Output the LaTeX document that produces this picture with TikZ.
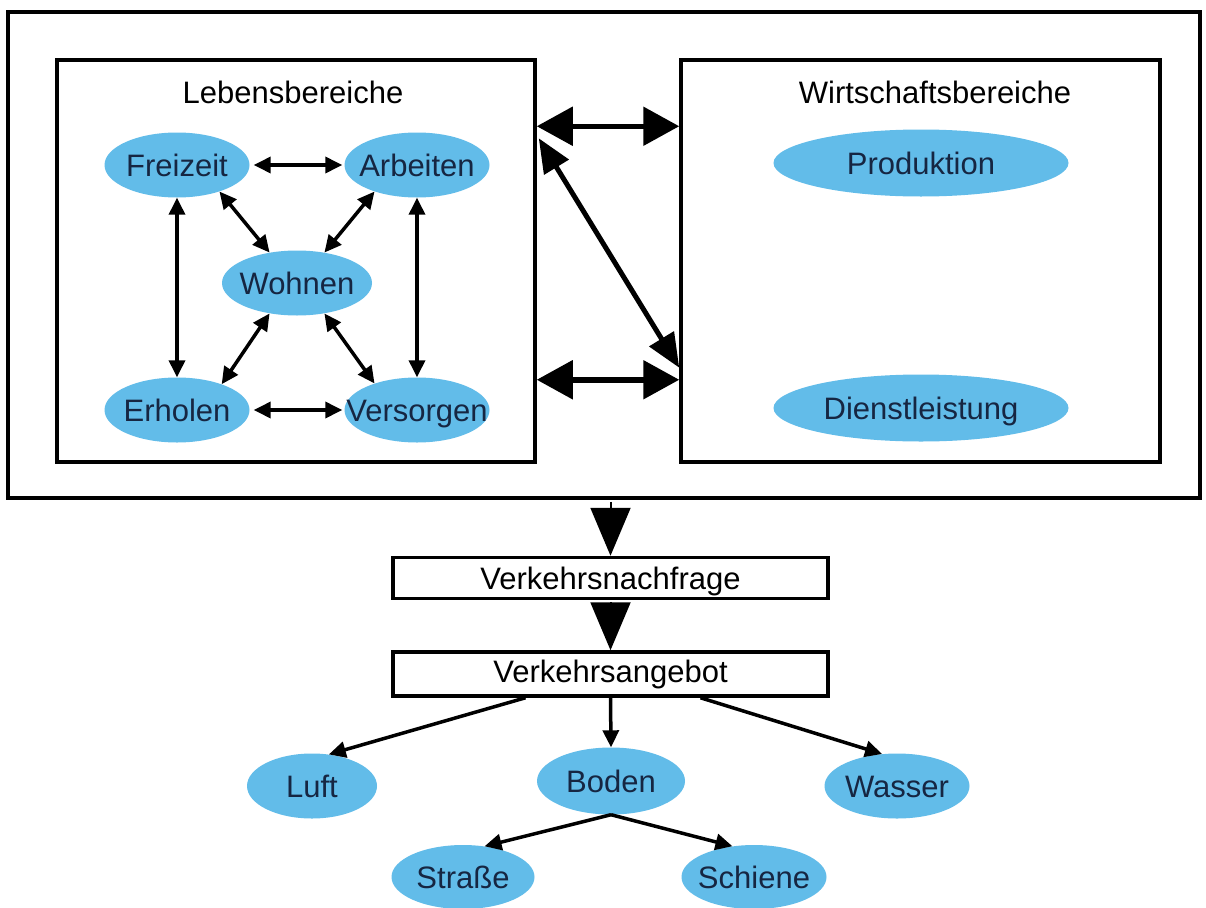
\documentclass[tikz,border=0pt]{standalone}
\usepackage{fontspec}
\setmainfont{Liberation Sans}
\usetikzlibrary{arrows.meta,shapes.geometric}
\definecolor{ellblue}{RGB}{98,188,233}
\definecolor{elltext}{RGB}{22,38,66}
\newcommand\zw[1]{\makebox[0pt]{#1}}
\tikzset{
  ell/.style={ellipse, fill=ellblue, draw=none, inner sep=0pt,
    minimum width=#1, minimum height=65pt, text=elltext,
    font=\fontsize{31}{34}\selectfont, text height=22pt, text depth=0pt},
  ell/.default=145pt,
  bigbox/.style={draw, line width=3.5pt, inner sep=0pt},
  title/.style={font=\fontsize{31}{34}\selectfont, inner sep=0pt, text height=22pt, text depth=0pt},
  flowbox/.style={draw, line width=3.5pt, inner sep=0pt, minimum width=435pt,
    minimum height=41pt, font=\fontsize{31}{34}\selectfont, text height=22pt, text depth=0pt},
  sarr/.style={line width=3.5pt, {Triangle[length=17pt,width=16pt]}-{Triangle[length=17pt,width=16pt]}},
  sone/.style={line width=3.5pt, -{Triangle[length=17pt,width=16pt]}},
  barr/.style={line width=5.5pt, {Triangle[length=36pt,width=38pt]}-{Triangle[length=36pt,width=38pt]}},
  bdiag/.style={line width=5pt, {Triangle[length=34pt,width=28pt]}-{Triangle[length=34pt,width=28pt]}},
  down/.style={line width=2pt, -{Triangle[length=48pt,width=40pt]}},
}
\begin{document}
\begin{tikzpicture}[x=1pt,y=-1pt]
\useasboundingbox (0,0) rectangle (1206,907);
\fill[white] (0,0) rectangle (1206,907);

% outer frame
\node[bigbox, minimum width=1192pt, minimum height=486pt] (outer) at (604,255) {};

% Lebensbereiche
\node[bigbox, minimum width=478pt, minimum height=402pt] (L) at (296,261) {};
\node[title] (Lt) at (293,92) {Lebensbereiche};
\node[ell] (F) at (177,165) {\zw{Freizeit}};
\node[ell] (A) at (417,165) {\zw{Arbeiten}};
\node[ell=150pt] (Wo) at (297,283) {\zw{Wohnen}};
\node[ell] (E) at (177,410) {\zw{Erholen}};
\node[ell] (V) at (417,410) {\zw{Versorgen}};

% Wirtschaftsbereiche
\node[bigbox, minimum width=479pt, minimum height=402pt] (Wi) at (920.5,261) {};
\node[title] (Wit) at (935,92) {Wirtschaftsbereiche};
\node[ell=295pt, minimum height=67pt] (P) at (921,163) {\zw{Produktion}};
\node[ell=295pt, minimum height=67pt] (D) at (921,408) {\zw{Dienstleistung}};

% arrows inside Lebensbereiche
\draw[sarr] ([xshift=4pt]F.east) -- ([xshift=-2pt]A.west);
\draw[sarr] ([xshift=4pt]E.east) -- ([xshift=-2pt]V.west);
\draw[sarr] (F.south) -- (E.north);
\draw[sarr] (A.south) -- (V.north);
\draw[sarr] (F.-32) -- (Wo.132);
\draw[sarr] (A.-148) -- (Wo.48);
\draw[sarr] (Wo.-132) -- (E.30);
\draw[sarr] (Wo.-48) -- (V.148);

% arrows between boxes
\draw[barr] ([yshift=-68pt]L.north east) -- ([yshift=-68pt]Wi.north west);
\draw[barr] ([yshift=84pt]L.south east) -- ([yshift=84pt]Wi.south west);
\draw[bdiag] ([xshift=2pt,yshift=-80pt]L.north east) -- ([yshift=96pt]Wi.south west);

% flow boxes
\node[flowbox] (N) at (610.5,578) {Verkehrsnachfrage};
\node[flowbox, minimum height=44pt] (G) at (610.5,674) {\raisebox{3pt}{Verkehrsangebot}};
\draw[down] ([yshift=-2pt]outer.south -| N.north) -- (N.north);
\draw[down] ([yshift=-2pt]N.south) -- (G.north);

% modes
\node[ell=130pt] (Lu) at (312,786) {\zw{Luft}};
\node[ell=148pt, minimum height=67pt] (B) at (611,781) {\zw{Boden}};
\node[ell] (Wa) at (897,786) {\zw{Wasser}};
\node[ell=143pt, minimum height=64pt] (S) at (463,877) {\zw{Straße}};
\node[ell=145pt, minimum height=64pt] (Sc) at (754,877) {\zw{Schiene}};

\draw[sone] ([xshift=-85pt]G.south) -- (Lu.62);
\draw[sone] (G.south) -- (B.north);
\draw[sone] ([xshift=90pt]G.south) -- (Wa.115);
\draw[sone] (B.south) -- (S.55);
\draw[sone] (B.south) -- (Sc.125);
\end{tikzpicture}
\end{document}
